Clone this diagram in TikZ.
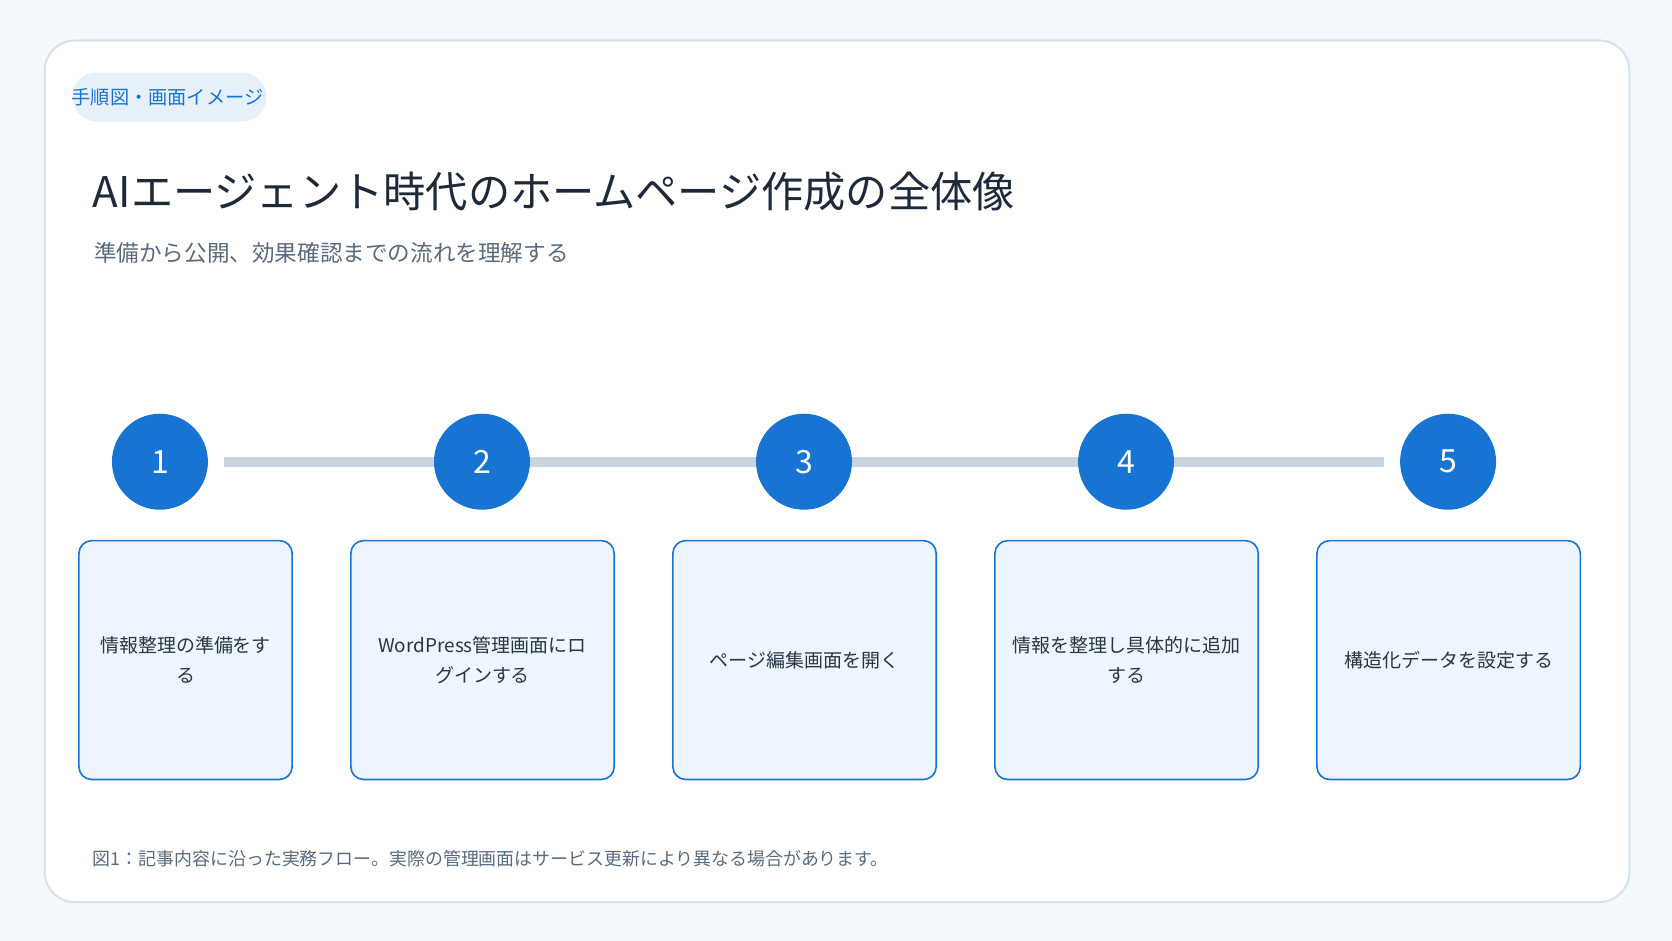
\documentclass[tikz,border=0pt]{standalone}
\usepackage{fontspec}
\setmainfont{Noto Sans CJK JP}
\definecolor{bgcol}{HTML}{F4F8FB}
\definecolor{cardline}{HTML}{D8E3EC}
\definecolor{stepblue}{HTML}{1874D2}
\definecolor{boxfill}{HTML}{EDF5FE}
\definecolor{tagfill}{HTML}{E6F0FB}
\definecolor{titlecol}{HTML}{1E2A3A}
\definecolor{subcol}{HTML}{5A6B7D}
\definecolor{linecol}{HTML}{C8D6E2}
\definecolor{textcol}{HTML}{2A3644}
\tikzset{
  stepnum/.style={circle,fill=stepblue,minimum size=90pt,inner sep=0pt,text=white,font=\fontsize{30}{34}\selectfont},
  stepbox/.style={draw=stepblue,line width=1.5pt,fill=boxfill,rounded corners=12pt,minimum height=224pt,align=center,text=textcol,font=\fontsize{17.8}{28}\selectfont}
}
\begin{document}
\begin{tikzpicture}[x=1pt,y=-1pt]
  \useasboundingbox[fill=bgcol] (0,0) rectangle (1568,882);
  \draw[cardline,line width=2pt,fill=white,rounded corners=28pt] (42,38) rectangle (1528,846);
  % tag and headings
  \fill[tagfill,rounded corners=23pt] (68,68) rectangle (250,114);
  \node[anchor=west,text=stepblue,font=\fontsize{18}{20}\selectfont,inner sep=0pt] (tag) at (67,91) {手順図・画面イメージ};
  \node[anchor=west,text=titlecol,font=\fontsize{39.6}{44}\selectfont,inner sep=0pt] (title) at (87,180) {AIエージェント時代のホームページ作成の全体像};
  \node[anchor=west,text=subcol,font=\fontsize{21.2}{24}\selectfont,inner sep=0pt] (sub) at (88,237) {準備から公開、効果確認までの流れを理解する};
  % timeline
  \coordinate (ls) at (210,433);
  \coordinate (le) at (1298,433);
  \draw[linecol,line width=9pt] (ls) -- (le);
  \foreach \n/\x in {1/150,2/452,3/754,4/1056,5/1358}
    \node[stepnum] (c\n) at (\x,433) {\n};
  % steps
  \node[stepbox,minimum width=200pt] (b1) at (174,619) {情報整理の準備をす\\る};
  \node[stepbox,minimum width=247pt] (b2) at (452.5,619) {WordPress管理画面にロ\\グインする};
  \node[stepbox,minimum width=247pt] (b3) at (754.5,619) {ページ編集画面を開く};
  \node[stepbox,minimum width=247pt] (b4) at (1056.5,619) {情報を整理し具体的に追加\\する};
  \node[stepbox,minimum width=247pt] (b5) at (1358.5,619) {構造化データを設定する};
  % caption
  \node[anchor=west,text=subcol,font=\fontsize{16.8}{20}\selectfont,inner sep=0pt] (cap) at (87,805) {図1：記事内容に沿った実務フロー。実際の管理画面はサービス更新により異なる場合があります。};
\end{tikzpicture}
\end{document}
